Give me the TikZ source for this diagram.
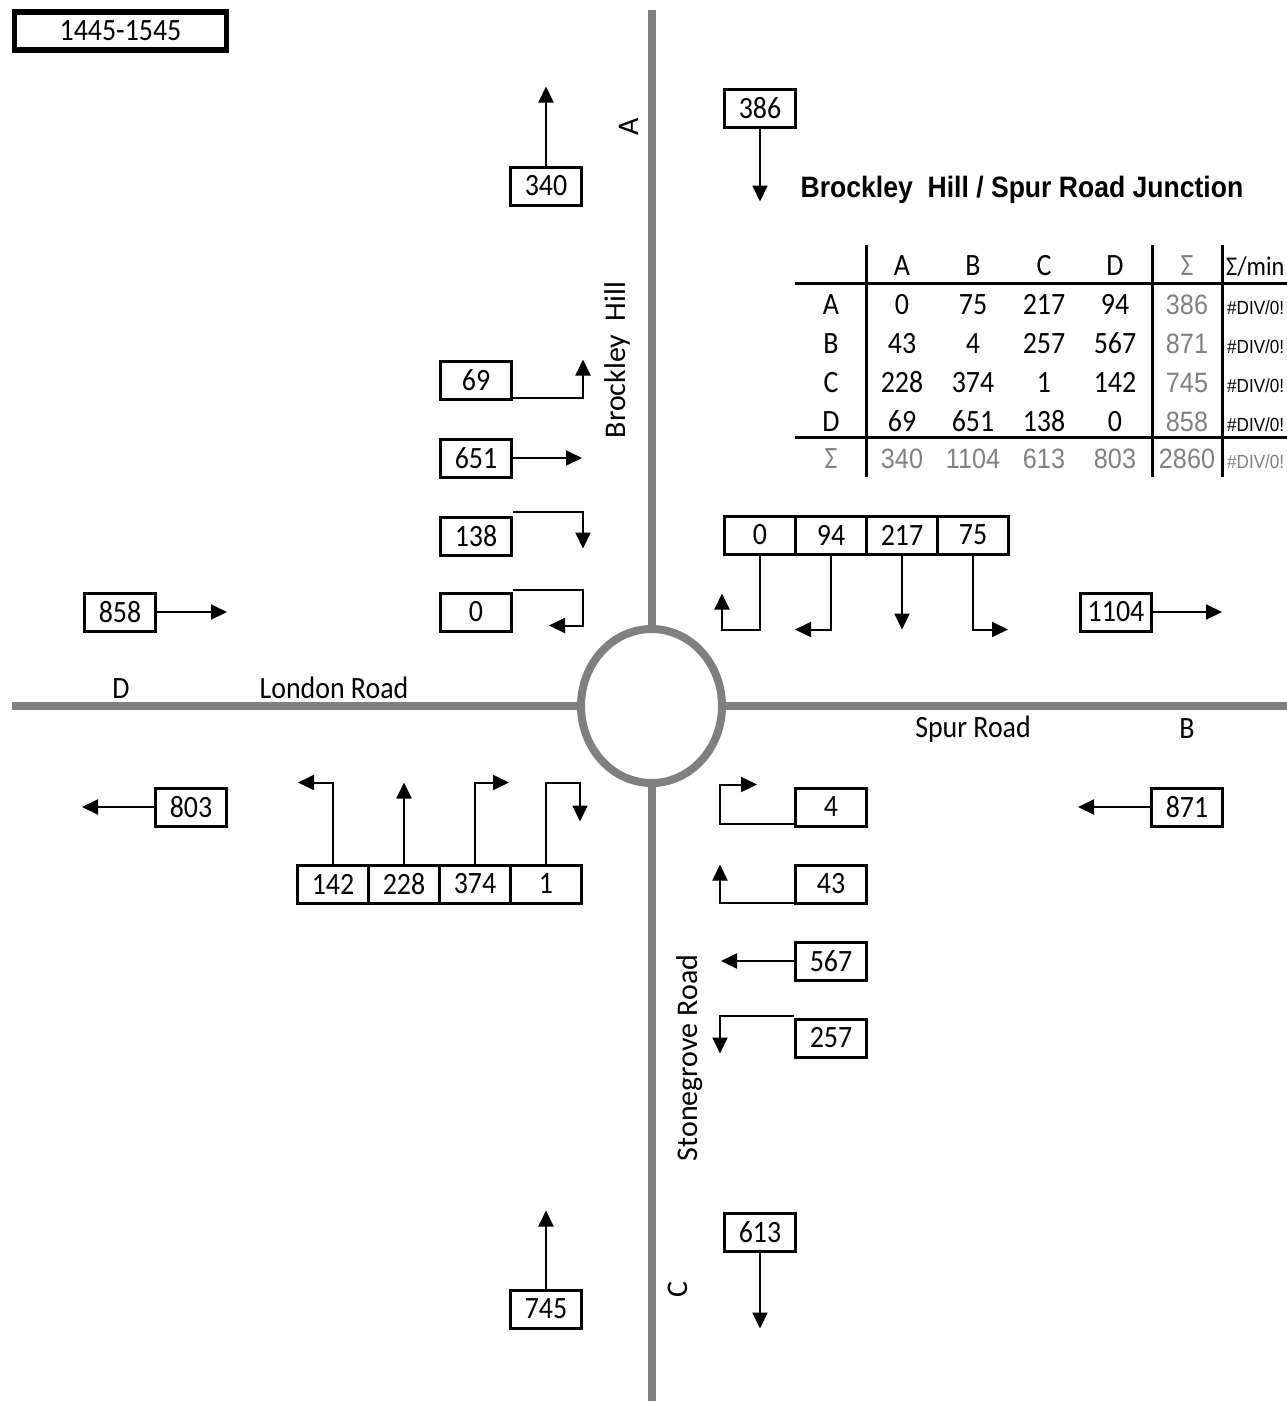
\documentclass[tikz,border=0pt]{standalone}
\usepackage{fontspec}
\setmainfont{Carlito}[FakeStretch=0.9]
\newfontfamily\uprightfont{Carlito}
\newfontfamily\arialfont{Liberation Sans}[FakeStretch=0.9]
\usetikzlibrary{arrows.meta, shapes.geometric}
\definecolor{roadgray}{RGB}{128,128,128}

\begin{document}
\begin{tikzpicture}[
  x=1pt, y=-1pt,
  font=\fontsize{31}{36}\selectfont,
  road/.style={draw=roadgray, line width=8pt},
  countbox/.style={
    rectangle, draw=black, line width=3pt,
    minimum width=71pt, minimum height=38pt, inner sep=0pt,
  },
  flow/.style={line width=2pt, -{Triangle[length=16pt,width=15pt]}},
  roadname/.style={inner sep=0pt, anchor=base},
  sidename/.style={inner sep=0pt, anchor=base, rotate=90,
                   font=\uprightfont\fontsize{30}{36}\selectfont},
  cell/.style={inner sep=0pt, anchor=base},
  sumcell/.style={inner sep=0pt, anchor=base, text=roadgray,
                  font=\arialfont\fontsize{28}{32}\selectfont},
  divcell/.style={inner sep=0pt, anchor=base west,
                  font=\arialfont\fontsize{19}{22}\selectfont},
  rule/.style={line width=3pt},
]
\useasboundingbox (0,0) rectangle (1287,1401);

% period
\node[draw, line width=5.5pt, minimum width=212pt, minimum height=38pt,
      inner sep=0pt] (period) at (120.5,31) {1445-1545};

% roads and roundabout
\node[ellipse, road, minimum width=141pt, minimum height=154pt,
      inner sep=0pt, outer sep=0pt] (rbt) at (651.5,706) {};
\coordinate (endA) at (651.5,10);
\coordinate (endB) at (1287,706);
\coordinate (endC) at (651.5,1401);
\coordinate (endD) at (12,706);
\draw[road] (rbt.north) -- (endA);
\draw[road] (rbt.east) -- (endB);
\draw[road] (rbt.south) -- (endC);
\draw[road] (rbt.west) -- (endD);

\node[sidename] (armA) at (638,127) {A};
\node[sidename] (nameA) at (625,360) {Brockley\ \ Hill};
\node[sidename] (armC) at (687,1289) {C};
\node[sidename] (nameC) at (697,1058) {Stonegrove Road};
\node[roadname] (armD) at (121,698) {D};
\node[roadname] (nameD) at (334,698) {London Road};
\node[roadname] (nameB) at (973,737) {Spur Road};
\node[roadname] (armB) at (1187,738) {B};

% title
\node[inner sep=0pt, anchor=base, font=\arialfont\bfseries\fontsize{29.5}{34}\selectfont]
  (title) at (1022,197) {Brockley\ \ Hill / Spur Road Junction};

% totals per arm
\node[countbox] (tot340) at (546,186) {340};
\node[countbox] (tot386) at (760,108) {386};
\node[countbox] (tot858) at (120,612) {858};
\node[countbox] (tot803) at (191,807) {803};
\node[countbox] (tot1104) at (1116,612) {1104};
\node[countbox] (tot871) at (1187,807) {871};
\node[countbox] (tot745) at (546,1309) {745};
\node[countbox] (tot613) at (760,1232) {613};
\draw[flow] (tot340.north) -- ++(0,-79);
\draw[flow] (tot386.south) -- ++(0,73);
\draw[flow] (tot858.east) -- ++(70,0);
\draw[flow] (tot803.west) -- ++(-72,0);
\draw[flow] (tot1104.east) -- ++(69,0);
\draw[flow] (tot871.west) -- ++(-72,0);
\draw[flow] (tot745.north) -- ++(0,-78);
\draw[flow] (tot613.south) -- ++(0,76);

% arm D movements
\node[countbox] (d69) at (476,380) {69};
\node[countbox] (d651) at (476,458) {651};
\node[countbox] (d138) at (476,536) {138};
\node[countbox] (d0) at (476,612) {0};
\draw[flow] ([yshift=3pt]d69.south east) -- ++(70,0) -- ++(0,-38);
\draw[flow] (d651.east) -- ++(69,0);
\draw[flow] ([yshift=4pt]d138.north east) -- ++(70,0) -- ++(0,37);
\draw[flow] ([yshift=2pt]d0.north east) -- ++(70,0) -- ++(0,36) -- ++(-34,0);

% arm C movements
\node[countbox] (c142) at (333,884) {142};
\node[countbox] (c228) at (404,884) {228};
\node[countbox] (c374) at (475,884) {374};
\node[countbox] (c1) at (546,884) {1};
\draw[flow] (c142.north) -- ++(0,-81) -- ++(-35,0);
\draw[flow] (c228.north) -- ++(0,-81);
\draw[flow] (c374.north) -- ++(0,-81) -- ++(34,0);
\draw[flow] (c1.north) -- ++(0,-81) -- ++(34,0) -- ++(0,39);

% arm A movements
\node[countbox] (a0) at (760,535) {0};
\node[countbox] (a94) at (831,535) {94};
\node[countbox] (a217) at (902,535) {217};
\node[countbox] (a75) at (973,535) {75};
\draw[flow] (a0.south) -- ++(0,74) -- ++(-38,0) -- ++(0,-36);
\draw[flow] (a94.south) -- ++(0,74) -- ++(-36,0);
\draw[flow] (a217.south) -- ++(0,74);
\draw[flow] (a75.south) -- ++(0,74) -- ++(35,0);

% arm B movements
\node[countbox] (b4) at (831,807) {4};
\node[countbox] (b43) at (831,884) {43};
\node[countbox] (b567) at (831,961) {567};
\node[countbox] (b257) at (831,1038) {257};
\draw[flow] ([yshift=4pt]b4.south west) -- ++(-74,0) -- ++(0,-39) -- ++(37,0);
\draw[flow] ([yshift=2pt]b43.south west) -- ++(-74,0) -- ++(0,-38);
\draw[flow] (b567.west) -- ++(-73,0);
\draw[flow] ([yshift=2pt]b257.north west) -- ++(-74,0) -- ++(0,38);

% origin-destination table
\draw[rule] (866,245) -- (866,477);
\draw[rule] (1152,245) -- (1152,477);
\draw[rule] (1222,245) -- (1222,477);
\draw[rule] (795,283) -- (1287,283);
\draw[rule] (795,437) -- (1287,437);

\foreach \lbl/\xx in {A/902, B/973, C/1044, D/1115}
  \node[cell] (head\lbl) at (\xx,275) {\lbl};
\node[cell, text=roadgray] (headS) at (1187,275) {Σ};
\node[cell, anchor=base west, font=\fontsize{27}{32}\selectfont]
  (headM) at (1226,275) {Σ/min};

\foreach \r/\yy/\va/\vb/\vc/\vd/\vs in {A/314/0/75/217/94/386,
    B/353/43/4/257/567/871, C/392/228/374/1/142/745, D/431/69/651/138/0/858} {
  \node[cell] (row\r) at (831,\yy) {\r};
  \node[cell] (\r-A) at (902,\yy) {\va};
  \node[cell] (\r-B) at (973,\yy) {\vb};
  \node[cell] (\r-C) at (1044,\yy) {\vc};
  \node[cell] (\r-D) at (1115,\yy) {\vd};
  \node[sumcell] (\r-S) at (1187,\yy) {\vs};
  \node[divcell] (\r-M) at (1227,\yy) {\#DIV/0!};
}

\node[cell, text=roadgray] (rowS) at (831,468) {Σ};
\foreach \cl/\xx/\vs in {A/902/340, B/973/1104, C/1044/613, D/1115/803, S/1187/2860}
  \node[sumcell] (S-\cl) at (\xx,468) {\vs};
\node[divcell, text=roadgray] (S-M) at (1227,468) {\#DIV/0!};

\end{tikzpicture}
\end{document}
